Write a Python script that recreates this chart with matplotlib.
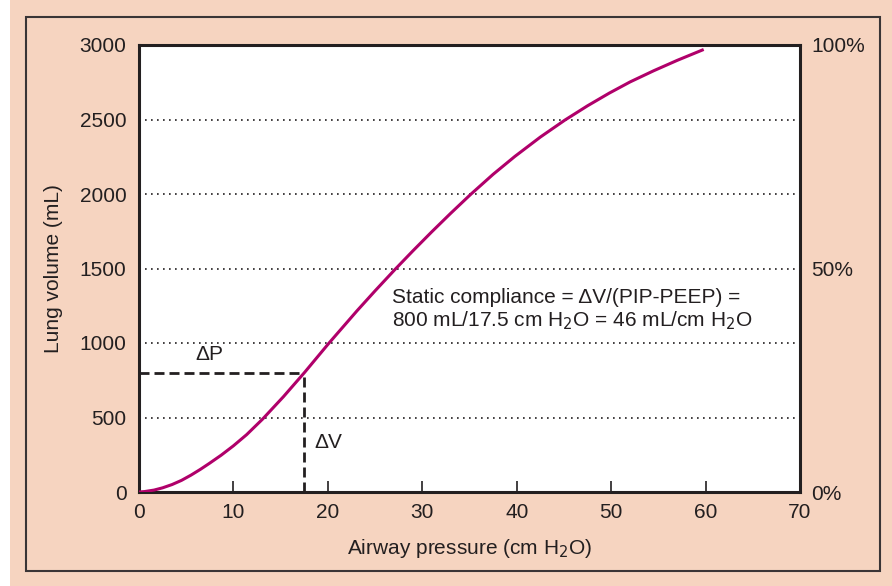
import matplotlib
matplotlib.use("Agg")
from matplotlib import pyplot as plt
from matplotlib.patches import Rectangle

plt.rcParams['font.family'] = ['Liberation Sans', 'DejaVu Sans']

# pressure-volume curve
pressure = [0, 0.6, 1.6, 2.5, 3.5, 4.5, 5.5, 6.5, 7.45, 8.7, 10, 11.4, 13.1, 15.3, 17.5,
            20.1, 23.1, 25, 27.1, 29, 31.0, 33, 35.1, 37.5, 39.8, 42.5, 45.1, 47.5,
            49.8, 52, 54.5, 57, 59.8]
volume = [0, 3, 13, 28, 50, 78, 113, 152, 192, 247, 310, 385, 490, 640, 800,
          998, 1217, 1350, 1493, 1618, 1746, 1870, 1996, 2132, 2252, 2382, 2496, 2592,
          2677, 2752, 2827, 2897, 2970]
pip = 17.5
dv = 800
y_ticks = [0, 500, 1000, 1500, 2000, 2500, 3000]
x_ticks = [0, 10, 20, 30, 40, 50, 60, 70]
pct_ticks = [0, 1500, 3000]
pct_labels = ["0%", "50%", "100%"]

ink = "#231f20"
peach = "#f6d4c0"
curve = "#b0006a"
fs = 15

fig = plt.figure(figsize=(8.92, 5.86), dpi=100)
fig.patch.set_facecolor(peach)
# white strip at left edge and the outer frame
fig.patches.append(Rectangle((0, 0), 10 / 892, 1, transform=fig.transFigure,
                             facecolor="white", edgecolor="none", zorder=0))
fig.patches.append(Rectangle((26 / 892, 1 - 571 / 586), (880 - 26) / 892, (571 - 17) / 586,
                             transform=fig.transFigure, facecolor="none",
                             edgecolor="#3a3536", lw=1.5, zorder=1))

ax = fig.add_axes([139 / 892, 1 - 492 / 586, 661 / 892, 447 / 586])
ax.set_facecolor("white")
ax.set_xlim(0, 70)
ax.set_ylim(0, 3000)

for y in y_ticks[1:-1]:
    ax.axhline(y, color=ink, ls=(0, (1, 2.6)), lw=1.2, zorder=1)

ax.plot(pressure, volume, color=curve, lw=2.2, zorder=3, solid_capstyle="butt",
        solid_joinstyle="round")
ax.plot([0, pip], [dv, dv], color=ink, ls=(0, (3.6, 1.8)), lw=2, zorder=2)
ax.plot([pip, pip], [0, dv], color=ink, ls=(0, (3.6, 1.8)), lw=2, zorder=2)

ax.text(7.5, 920, "ΔP", fontsize=fs, color=ink, ha="center", va="center")
ax.text(18.6, 330, "ΔV", fontsize=fs, color=ink, ha="left", va="center")
ax.text(26.8, 1222, "Static compliance = ΔV/(PIP-PEEP) =\n800 mL/17.5 cm H$_2$O = 46 mL/cm H$_2$O",
        fontsize=fs, color=ink, ha="left", va="center", linespacing=1.15)

ax.set_xticks(x_ticks)
ax.set_yticks(y_ticks)
ax.tick_params(axis="x", direction="in", length=8, width=1.2, color=ink,
               labelsize=fs, labelcolor=ink, pad=8)
ax.tick_params(axis="y", length=0, labelsize=fs, labelcolor=ink, pad=9)
for s in ax.spines.values():
    s.set_linewidth(2.2)
    s.set_color(ink)

ax.set_xlabel("Airway pressure (cm H$_2$O)", fontsize=fs, color=ink, labelpad=11)
ax.set_ylabel("Lung volume (mL)", fontsize=fs, color=ink, labelpad=12)

ax2 = ax.twinx()
ax2.set_ylim(0, 3000)
ax2.set_yticks(pct_ticks)
ax2.set_yticklabels(pct_labels)
ax2.tick_params(axis="y", length=0, labelsize=fs, labelcolor=ink, pad=8)
for s in ax2.spines.values():
    s.set_visible(False)

fig.savefig("out.png", dpi=100, facecolor=fig.get_facecolor())
